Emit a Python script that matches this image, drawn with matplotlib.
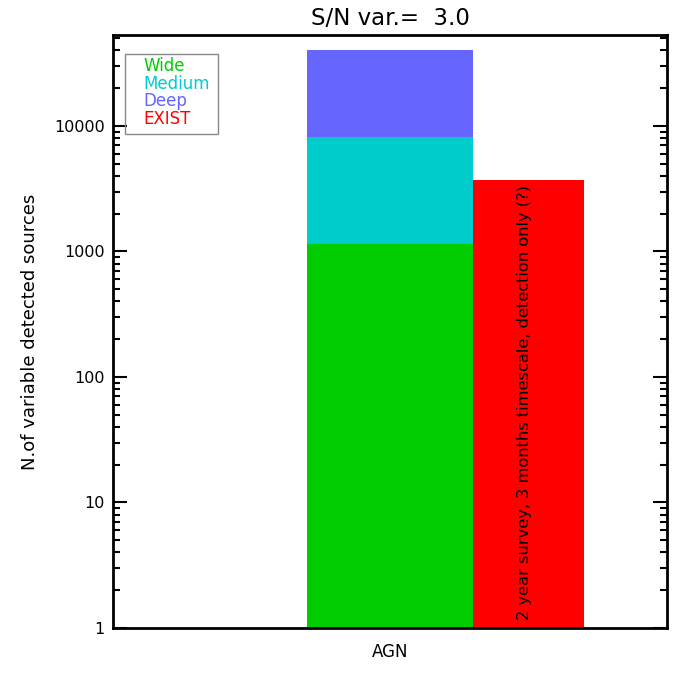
import numpy as np
import matplotlib.pyplot as plt
from matplotlib.ticker import FixedLocator, NullFormatter, NullLocator

# values
surveys = ['Deep', 'Medium', 'Wide']
survey_counts = [40000, 8100, 1150]
survey_colors = ['#6666FF', '#00CCCC', '#00CC00']
exist_count = 3700
legend_labels = ['Wide', 'Medium', 'Deep', 'EXIST']
legend_colors = ['#00CC00', '#00CCCC', '#6666FF', '#FF0000']
yticks = [1, 10, 100, 1000, 10000]

plt.rcParams['font.family'] = ['DejaVu Sans']

fig = plt.figure(figsize=(7, 7), dpi=100)
ax = fig.add_axes([113/700, 1 - 628/700, (667-113)/700, (628-35)/700])
ax.set_yscale('log')
ax.set_ylim(1, 53000)
ax.set_xlim(0, 1)

ymin = 1
# overplotted bars, largest first
for n, c in zip(survey_counts, survey_colors):
    ax.bar(0.35, n - ymin, bottom=ymin, width=0.30, align='edge', color=c, linewidth=0)
ax.bar(0.65, exist_count - ymin, bottom=ymin, width=0.20, align='edge', color='#FF0000', linewidth=0)

ax.text(0.743, 1.15, '2 year survey, 3 months timescale, detection only (?)',
        rotation=90, ha='center', va='bottom', fontsize=11.7, color='black')

ax.yaxis.set_major_locator(FixedLocator(yticks))
ax.set_yticklabels([str(t) for t in yticks])
minors = [m * 10**e for e in range(0, 5) for m in range(2, 10)]
ax.yaxis.set_minor_locator(FixedLocator(minors))
ax.yaxis.set_minor_formatter(NullFormatter())
ax.tick_params(axis='y', which='major', direction='in', length=10, width=1.5,
               right=True, labelsize=11.5, pad=6)
ax.tick_params(axis='y', which='minor', direction='in', length=5, width=1.5, right=True)
ax.xaxis.set_major_locator(NullLocator())
ax.set_xticks([0.5])
ax.set_xticklabels(['AGN'])
ax.tick_params(axis='x', length=0, labelsize=12, pad=11)

for s in ax.spines.values():
    s.set_linewidth(2)

ax.set_ylabel('N.of variable detected sources', fontsize=13, labelpad=11)
ax.set_title('S/N var.=  3.0', fontsize=16.5, pad=7)

# legend box
fig.patches.append(plt.Rectangle((125/700, 1 - 134/700), 93/700, 80/700,
                                 transform=fig.transFigure, fill=False,
                                 edgecolor='#888888', linewidth=1))
for i, (lab, c) in enumerate(zip(legend_labels, legend_colors)):
    fig.text(143/700, 1 - (66 + i*17.7)/700, lab, color=c, fontsize=12, va='center')

fig.savefig('out.png', dpi=100)
